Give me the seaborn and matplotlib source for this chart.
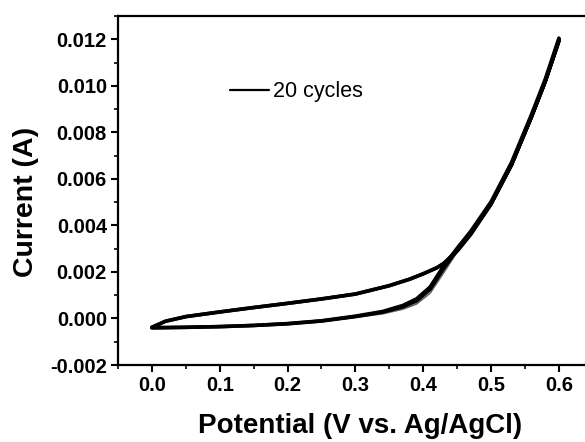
import pandas as pd
import seaborn as sns
from matplotlib import pyplot as plt
from matplotlib.lines import Line2D
from matplotlib.ticker import MultipleLocator, FormatStrFormatter

# forward scan (anodic), potential in V, current in A
potential_fwd = [0.00, 0.05, 0.10, 0.15, 0.20, 0.25, 0.30, 0.34, 0.37, 0.39,
                 0.41, 0.43, 0.45, 0.47, 0.50, 0.53, 0.56, 0.58, 0.60]
current_fwd_first = [-0.00040, -0.00038, -0.00035, -0.00031, -0.00024, -0.00013, 0.00005,
                     0.00020, 0.00040, 0.00062, 0.00108, 0.00196, 0.00286, 0.00362,
                     0.00488, 0.00652, 0.00862, 0.01012, 0.01180]
current_fwd_mid = [-0.00040, -0.00038, -0.00035, -0.00030, -0.00023, -0.00011, 0.00008,
                   0.00027, 0.00050, 0.00075, 0.00125, 0.00215, 0.00295, 0.00368,
                   0.00495, 0.00660, 0.00870, 0.01020, 0.01192]
current_fwd_last = [-0.00040, -0.00038, -0.00035, -0.00030, -0.00022, -0.00010, 0.00010,
                    0.00030, 0.00056, 0.00084, 0.00135, 0.00225, 0.00302, 0.00375,
                    0.00502, 0.00670, 0.00880, 0.01030, 0.01205]

# reverse scan (cathodic)
potential_rev = [0.60, 0.58, 0.56, 0.53, 0.50, 0.47, 0.45, 0.43, 0.42, 0.40,
                 0.38, 0.35, 0.30, 0.25, 0.20, 0.15, 0.10, 0.05, 0.02, 0.00]
current_rev = [0.01195, 0.01020, 0.00870, 0.00660, 0.00492, 0.00362, 0.00290, 0.00236,
               0.00218, 0.00192, 0.00169, 0.00141, 0.00105, 0.00084, 0.00065, 0.00047,
               0.00028, 0.00008, -0.00012, -0.00038]

rows = []
for cyc, cur in [('first', current_fwd_first), ('mid', current_fwd_mid), ('last', current_fwd_last)]:
    for p, c in zip(potential_fwd + potential_rev, cur + current_rev):
        rows.append({'cycle': cyc, 'potential': p, 'current': c})
df = pd.DataFrame(rows)

sns.set_style('ticks')
plt.rcParams['font.family'] = ['Liberation Sans', 'DejaVu Sans']
plt.rcParams['text.color'] = 'black'
plt.rcParams['axes.labelcolor'] = 'black'
plt.rcParams['xtick.color'] = 'black'
plt.rcParams['ytick.color'] = 'black'

fig = plt.figure(figsize=(5.85, 4.42), dpi=100)
ax = fig.add_axes([0.2017, 0.1742, 0.8117, 0.7896])

# first cycle in grey underneath, later cycles in black on top
sns.lineplot(data=df[df['cycle'] == 'first'], x='potential', y='current', units='cycle',
             estimator=None, sort=False, color='0.4', lw=1.2, ax=ax)
sns.lineplot(data=df[df['cycle'] != 'first'], x='potential', y='current', units='cycle',
             estimator=None, sort=False, color='black', lw=2.6, ax=ax)

ax.set_xlim(-0.05, 0.65)
ax.set_ylim(-0.002, 0.013)
ax.xaxis.set_major_locator(MultipleLocator(0.1))
ax.xaxis.set_minor_locator(MultipleLocator(0.05))
ax.yaxis.set_major_locator(MultipleLocator(0.002))
ax.yaxis.set_minor_locator(MultipleLocator(0.001))
ax.xaxis.set_major_formatter(FormatStrFormatter('%.1f'))
ax.yaxis.set_major_formatter(FormatStrFormatter('%.3f'))

for s in ['left', 'bottom', 'top']:
    ax.spines[s].set_linewidth(1.6)
    ax.spines[s].set_color('black')
ax.spines['right'].set_visible(False)
ax.tick_params(which='major', direction='out', length=5, width=1.5, labelsize=14.5, pad=3)
ax.tick_params(which='minor', direction='out', length=3, width=1.2)
for lbl in ax.get_xticklabels() + ax.get_yticklabels():
    lbl.set_fontweight('bold')

ax.set_xlabel('Potential (V vs. Ag/AgCl)', fontsize=20, fontweight='bold')
ax.set_ylabel('Current (A)', fontsize=20.5, fontweight='bold')
ax.xaxis.set_label_coords(0.5095, -0.138)
ax.yaxis.set_label_coords(-0.166, 0.467)

handle = Line2D([], [], color='black', lw=1.6)
ax.legend(handles=[handle], labels=['20 cycles'], loc='center left', bbox_to_anchor=(0.236, 0.783),
          frameon=False, fontsize=15.5, handlelength=1.8, handletextpad=0.2,
          borderpad=0, borderaxespad=0)

fig.savefig('out.png', dpi=100)
